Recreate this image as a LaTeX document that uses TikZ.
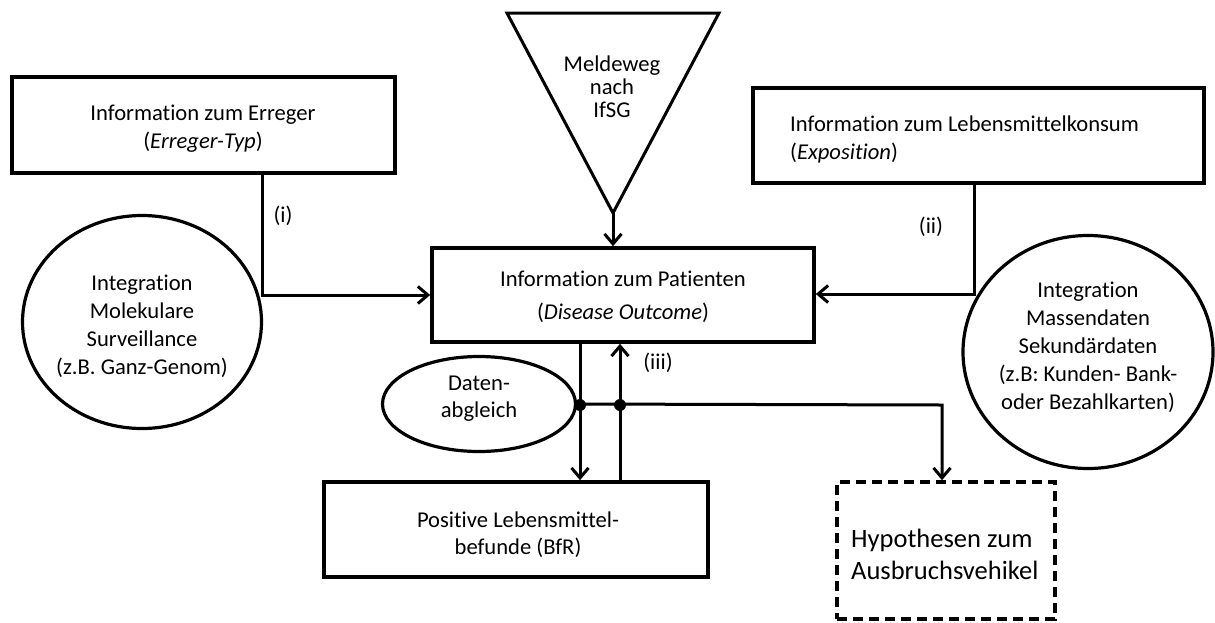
\documentclass[tikz,border=0pt]{standalone}
\usepackage{fontspec}
\setmainfont[Ligatures=NoCommon]{Carlito}
\usetikzlibrary{arrows.meta,shapes.geometric}
\begin{document}
\begin{tikzpicture}[x=1pt,y=-1pt,
  box/.style={draw,line width=3.6pt,rectangle,inner sep=0pt},
  dbox/.style={box,dash pattern=on 10pt off 6pt},
  oval/.style={draw,line width=3.2pt,ellipse,inner sep=0pt},
  txt/.style={font=\fontsize{22.6}{28}\selectfont,align=center,inner sep=0pt},
  conn/.style={line width=3pt},
  arr/.style={conn,-{Straight Barb[length=10pt,width=17pt,line width=3pt]}},
  dot/.style={fill=black}
]
\useasboundingbox (0,0) rectangle (1215,622);

% boxes
\node[box,minimum width=383pt,minimum height=96pt] (err) at (203.5,125) {};
\node[txt] (errT) at (203,129) {Information zum Erreger\\(\textit{Erreger-Typ})};

\node[box,minimum width=451pt,minimum height=95pt] (leb) at (978.5,135.5) {};
\node[txt,anchor=west,align=left] (lebT) at (790,139) {Information zum Lebensmittelkonsum\\(\textit{Exposition})};

\node[box,minimum width=382pt,minimum height=94pt] (pat) at (623,295) {};
\node[txt,font=\fontsize{22.6}{33}\selectfont] (patT) at (623,297) {Information zum Patienten\\(\textit{Disease Outcome})};

\node[box,minimum width=384pt,minimum height=95pt] (pos) at (516,529.5) {};
\node[txt,font=\fontsize{22.6}{27}\selectfont] (posT) at (518,535) {Positive Lebensmittel-\\befunde (BfR)};

\node[dbox,minimum width=218pt,minimum height=137pt] (hyp) at (946,550.5) {};
\node[txt,anchor=west,align=left,font=\fontsize{26.5}{32}\selectfont] (hypT) at (851,554) {Hypothesen zum\\Ausbruchsvehikel};

% triangle
\coordinate (tl) at (507,13);
\coordinate (tr) at (719,13);
\coordinate (apex) at (613,213);
\draw[line width=3pt,line join=miter] (tl) -- (tr) -- (apex) -- cycle;
\node[txt,font=\fontsize{22.6}{23}\selectfont] (triT) at (612,87) {Meldeweg\\nach\\IfSG};

% ellipses
\node[oval,minimum width=239pt,minimum height=213pt] (mol) at (142,322) {};
\node[txt] (molT) at (142,326) {Integration\\Molekulare\\Surveillance\\(z.B. Ganz-Genom)};

\node[oval,minimum width=250pt,minimum height=233pt] (mas) at (1088,352) {};
\node[txt] (masT) at (1088,347) {Integration\\Massendaten\\Sekundärdaten\\(z.B: Kunden- Bank-\\oder Bezahlkarten)};

\node[oval,minimum width=193pt,minimum height=95pt] (dat) at (479,404) {};
\node[txt,font=\fontsize{22.6}{27}\selectfont] (datT) at (479,399) {Daten-\\abgleich};

% connectors
\coordinate (c1) at (262,295);
\draw[arr] (err.south -| c1) -- (c1) -- (pat.west |- c1);
\draw[arr] (apex) -- (apex |- pat.north);
\coordinate (c2) at (974,294);
\draw[arr] (leb.south -| c2) -- (c2) -- (pat.east |- c2);

\coordinate (d1) at (580,405);
\coordinate (d2) at (620,405);
\draw[arr] (pat.south -| d1) -- (pos.north -| d1);
\draw[arr] (pos.north -| d2) -- (pat.south -| d2);
\coordinate (c3) at (942,405);
\draw[arr] (dat.east) -- (c3) -- (hyp.north -| c3);
\fill[dot] (d1) circle (6pt);
\fill[dot] (d2) circle (6pt);

% labels
\node[txt] (li) at (283,216) {(i)};
\node[txt] (lii) at (931,227) {(ii)};
\node[txt] (liii) at (658,363) {(iii)};
\end{tikzpicture}
\end{document}
